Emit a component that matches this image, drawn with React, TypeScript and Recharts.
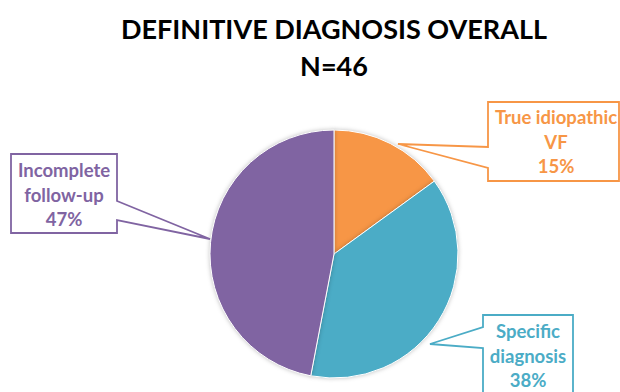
import { PieChart, Pie, Cell } from "recharts";

// chart values
const categories = ["True idiopathic VF", "Specific diagnosis", "Incomplete follow-up"];
const labelLines = [["True idiopathic", "VF"], ["Specific", "diagnosis"], ["Incomplete", "follow-up"]];
const shares = [15, 38, 47];
const colors = ["#F79646", "#4BACC6", "#8064A2"];

const TITLE = "DEFINITIVE DIAGNOSIS OVERALL";
const SUBTITLE = "N=46";

// callout boxes (position/styling only)
const callouts = [
    { x: 488, y: 102, w: 131, h: 79, side: "left", a1: 147, a2: 168, tip: [398, 144], tx: 556, ty: 117 },
    { x: 483, y: 315, w: 90, h: 95, side: "left", a1: 327, a2: 348, tip: [430, 344], tx: 528, ty: 331 },
    { x: 11, y: 154, w: 106, h: 79, side: "right", a1: 201, a2: 220, tip: [210, 239], tx: 64, ty: 170 },
];

const FONT = "Lato, 'Open Sans', sans-serif";

const data = categories.map((name, i) => ({ name, value: shares[i] }));

const renderCallout = (props: any) => {
    const i = props.index;
    const c = callouts[i];
    const color = colors[i];
    const { x, y, w, h, a1, a2, tip } = c;
    let d;
    if (c.side === "left") {
        d = `M${x},${y} L${x + w},${y} L${x + w},${y + h} L${x},${y + h} L${x},${a2} L${tip[0]},${tip[1]} L${x},${a1} Z`;
    } else {
        d = `M${x},${y} L${x + w},${y} L${x + w},${a1} L${tip[0]},${tip[1]} L${x + w},${a2} L${x + w},${y + h} L${x},${y + h} Z`;
    }
    const lines = [...labelLines[i], `${shares[i]}%`];
    return (
        <g key={`callout-${i}`}>
            <path d={d} fill="#ffffff" stroke={color} strokeWidth={1.8} strokeLinejoin="miter" />
            {lines.map((t, j) => (
                <text
                    key={j}
                    x={c.tx}
                    y={c.ty + j * 24.5}
                    textAnchor="middle"
                    dominantBaseline="central"
                    fill={color}
                    fontFamily={FONT}
                    fontWeight={700}
                    fontSize={18.5}
                >
                    {t}
                </text>
            ))}
        </g>
    );
};

export default function App() {
    return (
        <div style={{ position: "absolute", left: 0, top: 0, width: 620, height: 392, background: "#fff", overflow: "hidden" }}>
            <div style={{ position: "absolute", left: 0, top: 10, width: 668, textAlign: "center", fontFamily: FONT, fontWeight: 700, fontSize: 27, lineHeight: "37px", color: "#000" }}>
                <div>{TITLE}</div>
                <div>{SUBTITLE}</div>
            </div>
            <PieChart width={620} height={392} margin={{ top: 0, right: 0, bottom: 0, left: 0 }}>
                <Pie
                    data={data}
                    dataKey="value"
                    nameKey="name"
                    cx={334}
                    cy={254}
                    outerRadius={124}
                    startAngle={90}
                    endAngle={-270}
                    stroke="#ffffff"
                    strokeWidth={1}
                    label={renderCallout}
                    labelLine={false}
                    isAnimationActive={false}
                    style={{ filter: "drop-shadow(0px 0px 2px rgba(0,0,0,0.25))" }}
                >
                    {data.map((d, i) => (
                        <Cell key={d.name} fill={colors[i]} />
                    ))}
                </Pie>
            </PieChart>
        </div>
    );
}
